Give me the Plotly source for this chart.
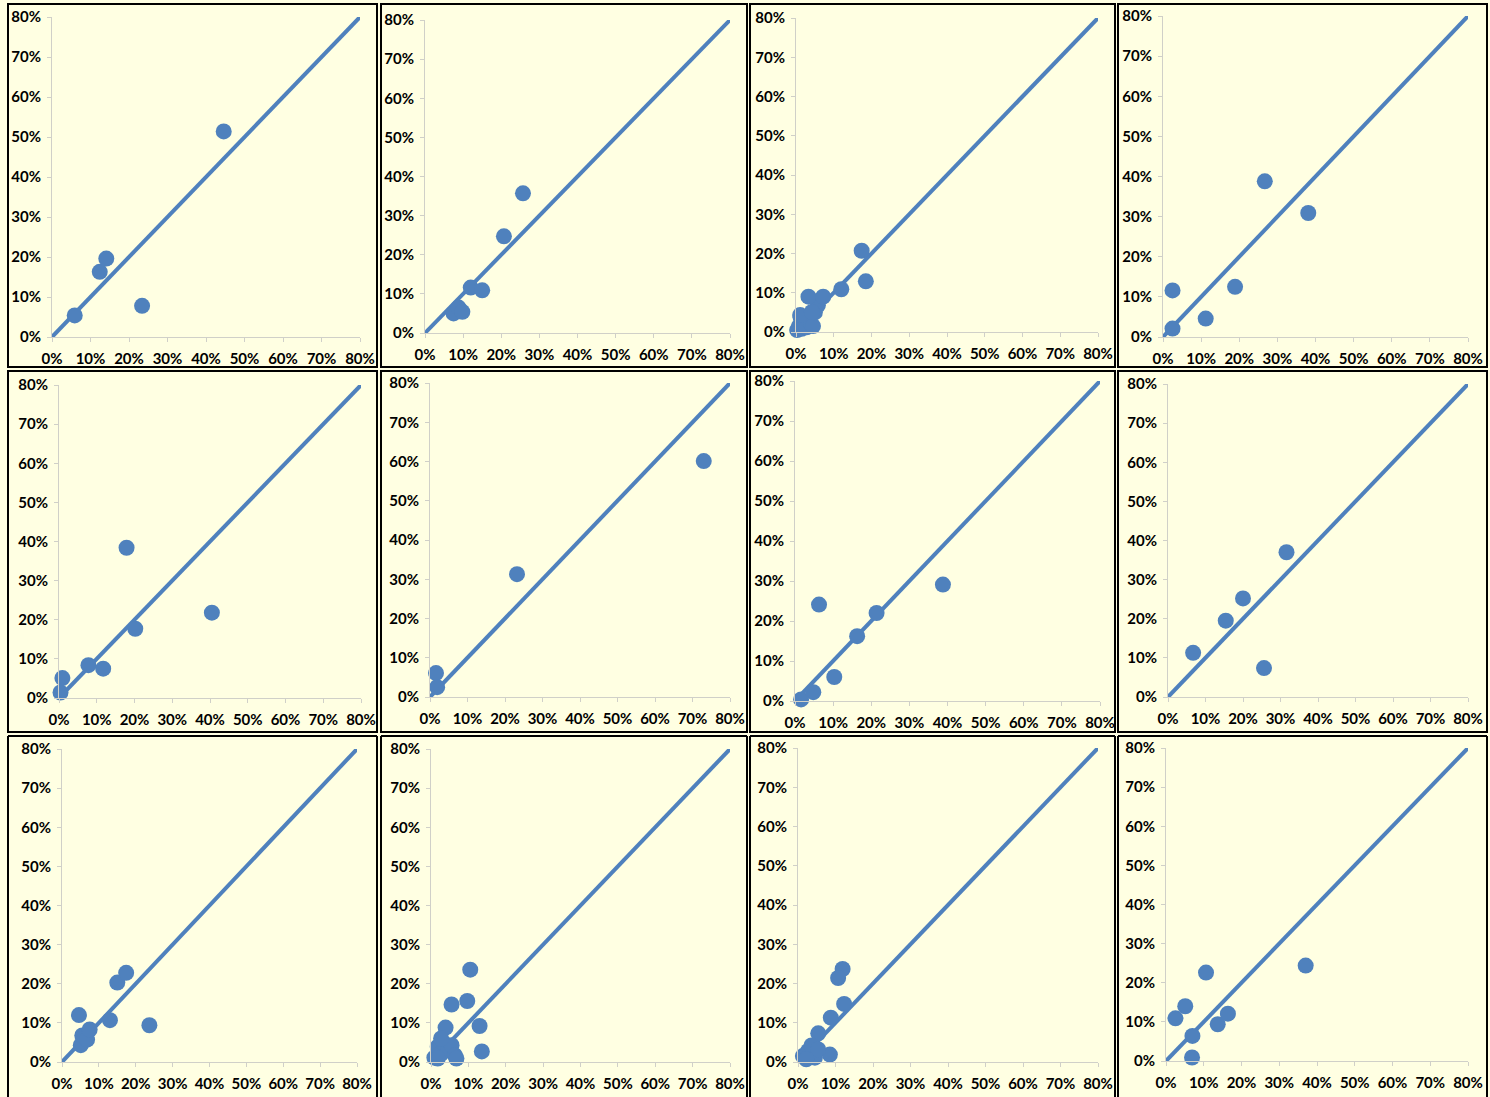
import plotly.graph_objects as go

W, H = 1490, 1097

# ---- data (percent values) ----
diag = [0, 80]
ticks = [0, 10, 20, 30, 40, 50, 60, 70, 80]

p1_x = [5.9, 12.4, 14.1, 23.4, 44.6]
p1_y = [5.4, 16.3, 19.6, 7.8, 51.4]

p2_x = [7.5, 8.8, 9.8, 12.0, 15.0, 20.7, 25.7]
p2_y = [5.0, 6.5, 5.4, 11.6, 10.9, 24.7, 35.7]

p3_x = [0.3, 0.8, 1.2, 1.5, 2.2, 2.8, 3.5, 4.0, 4.5, 5.0, 5.8, 3.3, 7.2, 12.0, 17.4, 18.5, 1.1, 4.2]
p3_y = [0.5, 1.5, 3.8, 0.8, 2.5, 1.2, 4.0, 2.0, 1.5, 5.0, 6.8, 9.0, 9.0, 10.9, 20.7, 12.9, 4.3, 5.1]

p4_x = [2.5, 2.5, 11.2, 18.9, 26.7, 38.1]
p4_y = [11.6, 2.1, 4.6, 12.5, 38.8, 30.9]

p5_x = [0.4, 0.9, 7.8, 11.7, 17.9, 20.2, 40.5]
p5_y = [1.4, 5.1, 8.4, 7.5, 38.4, 17.7, 21.8]

p6_x = [1.6, 1.9, 23.2, 73.0]
p6_y = [6.1, 2.5, 31.3, 60.1]

p7_x = [1.6, 4.8, 6.3, 10.3, 16.3, 21.4, 38.8]
p7_y = [0.4, 2.2, 24.1, 6.0, 16.2, 22.0, 29.1]

p8_x = [6.7, 15.4, 20.0, 25.6, 31.6]
p8_y = [11.3, 19.5, 25.2, 7.4, 37.0]

p9_x = [4.6, 5.1, 5.5, 6.8, 7.5, 13.0, 15.0, 17.4, 23.7]
p9_y = [12.0, 4.3, 6.8, 5.7, 8.3, 10.7, 20.3, 22.8, 9.4]

p10_x = [10.5, 9.7, 5.5, 13.0, 13.6, 3.9, 0.9, 1.8, 2.7, 3.6, 4.5, 5.5, 6.4, 6.8, 2.7, 1.8]
p10_y = [23.6, 15.6, 14.7, 9.2, 2.7, 8.8, 1.1, 3.9, 2.1, 4.7, 3.0, 4.3, 1.7, 0.9, 6.0, 0.9]

p11_x = [11.9, 10.7, 12.3, 8.75, 5.4, 8.5, 1.3, 2.7, 3.6, 4.5, 5.4, 2.2]
p11_y = [23.7, 21.4, 14.8, 11.3, 7.3, 1.9, 1.5, 2.8, 4.2, 1.1, 3.2, 0.7]

p12_x = [2.5, 5.1, 10.6, 7.0, 6.9, 13.7, 16.4, 37.0]
p12_y = [10.9, 14.0, 22.6, 6.4, 0.9, 9.4, 12.1, 24.4]

panels = [(p1_x, p1_y), (p2_x, p2_y), (p3_x, p3_y), (p4_x, p4_y),
          (p5_x, p5_y), (p6_x, p6_y), (p7_x, p7_y), (p8_x, p8_y),
          (p9_x, p9_y), (p10_x, p10_y), (p11_x, p11_y), (p12_x, p12_y)]

# ---- layout geometry (pixels): x of 0%/80%, y of 0%/80% per panel ----
plot_px = [
    (52, 360, 337, 17), (425, 730, 333, 20), (796, 1098, 332, 18), (1163, 1468, 337, 16),
    (59, 361, 698, 385), (430, 730, 697, 383), (795, 1100, 701, 381), (1168, 1468, 697, 384),
    (62, 357, 1062, 749), (431, 730, 1062, 749), (798, 1098, 1062, 748), (1166, 1468, 1061, 748),
]
cols = [(8, 377), (381, 747), (750, 1115), (1118, 1487)]
rows = [(4, 367), (371, 732), (736, 1097)]

BLUE = "#4F81BD"
BG = "#FFFFE2"
AXIS = "#D0D0C8"

fig = go.Figure()
layout = dict(width=W, height=H, margin=dict(l=0, r=0, t=0, b=0, pad=0, autoexpand=False),
              autosize=False, paper_bgcolor=BG, plot_bgcolor=BG, showlegend=False)

tickfont = dict(family="Lato, Open Sans, sans-serif", size=15, color="#000000", weight="bold")

for i, ((px, py), (x0, x1, y0, y1)) in enumerate(zip(panels, plot_px)):
    n = i + 1
    xa = "x" if n == 1 else f"x{n}"
    ya = "y" if n == 1 else f"y{n}"
    fig.add_trace(go.Scatter(x=diag, y=diag, mode="lines",
                             line=dict(color=BLUE, width=4),
                             xaxis=xa, yaxis=ya, hoverinfo="skip", cliponaxis=False))
    fig.add_trace(go.Scatter(x=px, y=py, mode="markers",
                             marker=dict(color=BLUE, size=16, line=dict(width=0)),
                             xaxis=xa, yaxis=ya, cliponaxis=False))
    axcommon = dict(range=[0, 80], tickvals=ticks, ticktext=[f"{t}%" for t in ticks],
                    showgrid=False, zeroline=False, showline=True, linecolor=AXIS, linewidth=1,
                    ticks="outside", ticklen=4, tickcolor=AXIS, tickfont=tickfont,
                    fixedrange=True, automargin=False)
    layout["xaxis" if n == 1 else f"xaxis{n}"] = dict(
        domain=[x0 / W, x1 / W], anchor=ya, ticklabelstandoff=4, **axcommon)
    layout["yaxis" if n == 1 else f"yaxis{n}"] = dict(
        domain=[1 - y0 / H, 1 - y1 / H], anchor=xa, ticklabelstandoff=3, **axcommon)


def px2paper(x, y):
    return x / W, 1 - y / H


shapes = []
for ri, (r0, r1) in enumerate(rows):
    for (c0, c1) in cols:
        if ri < len(rows) - 1:
            shapes.append(dict(type="rect", xref="paper", yref="paper",
                               x0=c0 / W, x1=c1 / W, y0=1 - r1 / H, y1=1 - r0 / H,
                               line=dict(color="black", width=2), fillcolor="rgba(0,0,0,0)",
                               layer="above"))
        else:
            for (xa_, ya_, xb_, yb_) in [(c0, r0, c1, r0), (c0, r0, c0, r1), (c1, r0, c1, r1)]:
                ax_, ay_ = px2paper(xa_, ya_)
                bx_, by_ = px2paper(xb_, yb_)
                shapes.append(dict(type="line", xref="paper", yref="paper",
                                   x0=ax_, y0=ay_, x1=bx_, y1=by_,
                                   line=dict(color="black", width=2), layer="above"))
layout["shapes"] = shapes

fig.update_layout(**layout)

post = (
    "document.documentElement.style.margin='0';"
    "document.documentElement.style.overflow='hidden';"
    "document.body.style.margin='0';"
    "document.body.style.overflow='hidden';"
    "var g=document.querySelector('.plotly-graph-div');"
    "g.style.position='fixed';g.style.left='0px';g.style.top='0px';"
)
fig.write_html("out.html", config={"displayModeBar": False}, post_script=post)
